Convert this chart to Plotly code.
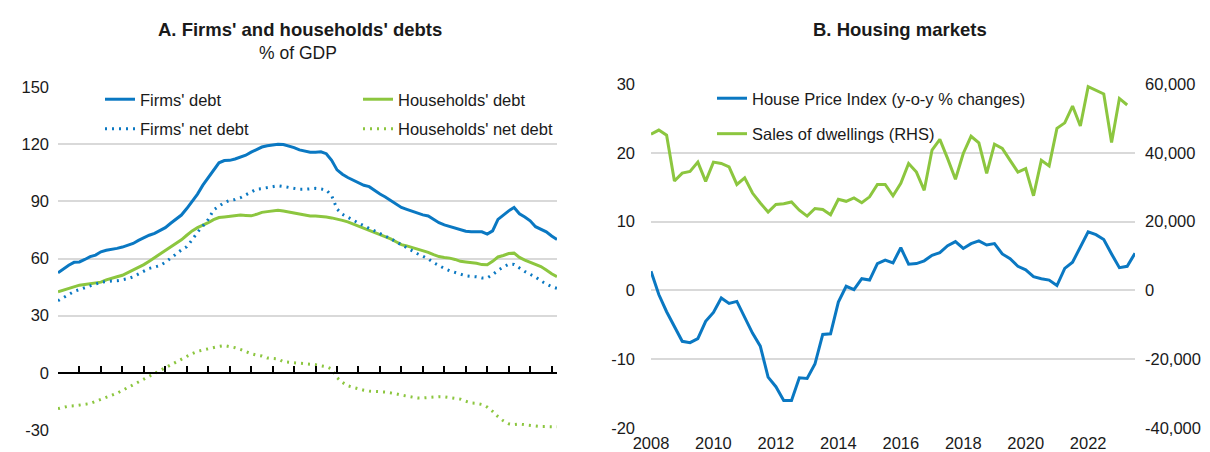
import plotly.graph_objects as go

# ---------------- Panel A data (quarterly, 2000Q1 .. 2023Q2) ----------------
quarter_idx = list(range(94))
firms_debt = [52.5, 54.5, 56.5, 58.0, 58.2, 59.5, 61.0, 61.8, 63.5, 64.3,
              64.7, 65.3, 66.0, 67.0, 67.9, 69.5, 71.0, 72.2, 73.2, 74.5,
              76.2, 78.5, 80.8, 82.8, 86.2, 90.0, 93.8, 98.5, 102.3, 106.5,
              110.2, 111.4, 111.5, 112.2, 113.2, 114.2, 115.8, 117.3, 118.5, 119.2,
              119.6, 120.0, 119.8, 119.1, 118.2, 117.0, 116.3, 115.8, 115.8, 116.0,
              115.0, 111.5, 106.5, 104.2, 102.5, 101.2, 100.0, 98.4, 97.7, 95.5,
              93.8, 92.3, 90.5, 88.7, 86.8, 85.8, 84.8, 83.8, 82.9, 82.3,
              80.5, 78.8, 77.6, 76.8, 76.0, 75.0, 74.3, 74.0, 74.0, 74.0,
              72.8, 74.5, 80.5, 82.8, 85.0, 86.8, 83.5, 81.8, 79.8, 76.7,
              75.5, 74.0, 71.8, 70.0]
households_debt = [42.5, 43.4, 44.2, 45.2, 46.0, 46.4, 46.8, 47.2, 47.6, 48.8,
                   49.8, 50.4, 51.2, 52.6, 53.9, 55.3, 56.8, 58.6, 60.5, 62.4,
                   64.2, 66.1, 68.0, 69.8, 72.2, 74.5, 76.2, 77.4, 78.8, 80.4,
                   81.5, 81.8, 82.1, 82.6, 82.8, 82.6, 82.4, 83.2, 84.2, 84.6,
                   85.0, 85.3, 84.9, 84.2, 83.9, 83.4, 82.8, 82.3, 82.3, 82.2,
                   81.8, 81.3, 80.8, 80.0, 79.2, 78.1, 77.0, 75.9, 74.8, 73.7,
                   72.7, 71.6, 70.3, 68.8, 67.3, 66.6, 65.8, 64.8, 63.9, 63.2,
                   62.0, 61.0, 60.5, 60.2, 59.5, 58.5, 58.2, 58.0, 57.5, 56.8,
                   56.7, 58.5, 60.8, 61.6, 62.6, 62.8, 60.6, 59.2, 58.0, 57.0,
                   55.8, 54.0, 52.0, 50.5]
firms_net_debt = [37.8, 39.5, 41.0, 42.7, 43.7, 44.8, 45.8, 46.6, 47.5, 48.0,
                  48.2, 48.3, 48.7, 49.4, 50.4, 51.8, 53.4, 54.8, 55.5, 56.3,
                  58.0, 60.0, 62.3, 64.5, 66.2, 69.8, 73.8, 77.0, 80.5, 85.5,
                  87.6, 89.4, 90.5, 91.0, 91.9, 93.4, 95.2, 96.4, 96.7, 97.1,
                  97.6, 98.2, 97.8, 97.4, 96.9, 96.3, 96.3, 96.6, 96.8, 96.5,
                  96.0, 93.0, 86.0, 83.2, 81.5, 80.2, 78.6, 77.0, 75.8, 74.5,
                  73.2, 71.8, 70.4, 68.8, 67.2, 65.8, 63.8, 62.5, 61.2, 59.8,
                  57.8, 56.2, 54.8, 53.6, 52.6, 51.7, 50.9, 50.6, 50.4, 49.8,
                  49.8, 51.5, 53.8, 55.5, 57.0, 56.9, 55.0, 53.2, 51.7, 50.3,
                  48.2, 46.5, 45.2, 44.3]
households_net_debt = [-18.8, -18.2, -17.5, -17.3, -17.0, -16.6, -16.1, -15.0, -13.8, -12.6,
                       -11.8, -10.7, -9.3, -8.0, -6.3, -4.8, -3.3, -1.8, -0.2, 0.9,
                       2.4, 4.0, 5.8, 7.1, 8.6, 10.1, 11.3, 12.0, 12.8, 13.4,
                       13.9, 14.3, 13.9, 13.2, 12.3, 11.0, 10.0, 9.3, 8.8, 7.8,
                       7.5, 7.3, 5.8, 5.5, 5.3, 5.1, 4.9, 4.7, 4.3, 3.7,
                       3.2, 2.0, -2.5, -5.0, -6.8, -7.6, -8.5, -9.1, -9.6, -9.9,
                       -9.9, -10.1, -10.5, -11.0, -11.7, -12.3, -12.5, -13.2, -13.2, -12.9,
                       -12.6, -12.5, -12.6, -12.9, -13.2, -13.8, -14.9, -15.8, -16.0, -16.6,
                       -18.0, -20.2, -23.0, -25.2, -26.7, -27.2, -26.9, -27.2, -27.8, -28.1,
                       -28.2, -28.2, -28.3, -28.3]
a_ticks = list(range(0, 93, 4))
a_yticks = [-30, 0, 30, 60, 90, 120, 150]
a_yticklabels = ["-30", "0", "30", "60", "90", "120", "150"]

# ---------------- Panel B data (quarterly, from 2008Q1) ----------------
years_b = [2008 + 0.25 * j for j in range(63)]
hpi = [2.8, -0.6, -3.1, -5.2, -7.4, -7.6, -7.0, -4.5, -3.2, -1.1,
       -1.9, -1.6, -3.8, -6.2, -8.1, -12.6, -14.0, -16.0, -16.0, -12.7,
       -12.8, -10.7, -6.4, -6.3, -1.7, 0.6, 0.1, 1.7, 1.5, 3.9,
       4.4, 4.0, 6.2, 3.8, 3.9, 4.3, 5.1, 5.5, 6.5, 7.1,
       6.1, 6.8, 7.2, 6.6, 6.8, 5.3, 4.6, 3.5, 3.0, 2.0,
       1.7, 1.5, 0.7, 3.2, 4.1, 6.3, 8.5, 8.1, 7.4, 5.3,
       3.3, 3.5, 5.4]
sales = [45400, 46600, 45100, 31800, 34100, 34600, 37300, 31700, 37300, 36900,
         35900, 30800, 32700, 28300, 25400, 22800, 25000, 25200, 25700, 23300,
         21600, 23800, 23500, 22000, 26500, 25900, 26900, 25500, 27200, 30800,
         30800, 27500, 31100, 36900, 34400, 29100, 40800, 43900, 38300, 32300,
         39800, 44800, 42900, 34000, 42500, 41300, 37800, 34400, 35400, 27500,
         37800, 36200, 47100, 48700, 53600, 47800, 59200, 58200, 57100, 43000,
         55800, 53900]
b_xticks = [2008, 2010, 2012, 2014, 2016, 2018, 2020, 2022]
b_yticks_left = [-20, -10, 0, 10, 20, 30]
b_yticklabels_left = ["-20", "-10", "0", "10", "20", "30"]
b_yticks_right = [-40000, -20000, 0, 20000, 40000, 60000]
b_yticklabels_right = ["-40,000", "-20,000", "0", "20,000", "40,000", "60,000"]

BLUE = "#0a78c2"
GREEN = "#8cc63f"
GRID = "#d9d9d9"
TXT = "#1a1a1a"
FONT = "Liberation Sans Narrow, Arial Narrow, Liberation Sans, Arial, sans-serif"
FS = 16.5

W, H = 1210, 452
ML, MR, MT, MB = 58, 75, 84, 22
PW, PH = W - ML - MR, H - MT - MB


def px_x(p):
    return (p - ML) / PW


def px_y(p):
    return (H - MB - p) / PH


DOT = "2px,5px"

fig = go.Figure()
fig.add_trace(go.Scatter(x=quarter_idx, y=firms_debt, name="Firms' debt", mode="lines",
                         line=dict(color=BLUE, width=3), xaxis="x", yaxis="y",
                         legend="legend", legendgroup="g1"))
fig.add_trace(go.Scatter(x=quarter_idx, y=households_debt, name="Households' debt", mode="lines",
                         line=dict(color=GREEN, width=3), xaxis="x", yaxis="y",
                         legend="legend2", legendgroup="g2"))
fig.add_trace(go.Scatter(x=quarter_idx, y=firms_net_debt, name="Firms' net debt", mode="lines",
                         line=dict(color=BLUE, width=3, dash=DOT), xaxis="x", yaxis="y",
                         legend="legend", legendgroup="g3"))
fig.add_trace(go.Scatter(x=quarter_idx, y=households_net_debt, name="Households' net debt", mode="lines",
                         line=dict(color=GREEN, width=3, dash=DOT), xaxis="x", yaxis="y",
                         legend="legend2", legendgroup="g4"))
fig.add_trace(go.Scatter(x=years_b, y=hpi, name="House Price Index (y-o-y % changes)", mode="lines",
                         line=dict(color=BLUE, width=3), xaxis="x2", yaxis="y2",
                         legend="legend3", legendgroup="g5"))
fig.add_trace(go.Scatter(x=years_b[:len(sales)], y=sales, name="Sales of dwellings (RHS)", mode="lines",
                         line=dict(color=GREEN, width=3), xaxis="x2", yaxis="y3",
                         legend="legend3", legendgroup="g6"))

dom_a = [0, px_x(557)]
dom_b = [px_x(651), 1]
ydom_a = [0, px_y(87)]
ydom_b = [px_y(428), 1]
zero_a = ydom_a[0] + (ydom_a[1] - ydom_a[0]) * (30 / 180)
zero_b = ydom_b[0] + (ydom_b[1] - ydom_b[0]) * (20 / 50)

tf = dict(size=FS, color=TXT, family=FONT)

fig.update_layout(
    width=W, height=H,
    margin=dict(l=ML, r=MR, t=MT, b=MB, autoexpand=False),
    paper_bgcolor="white", plot_bgcolor="white",
    font=dict(family=FONT, size=FS, color=TXT),
    showlegend=True,
    xaxis=dict(domain=dom_a, range=[0, 93], anchor="free", position=zero_a, automargin=False,
               tickvals=a_ticks, ticks="inside", ticklen=6, tickwidth=1.5, tickcolor="black",
               showline=True, linecolor="black", linewidth=2, showticklabels=False,
               showgrid=False, zeroline=False),
    yaxis=dict(domain=ydom_a, range=[-30, 150], tickvals=a_yticks, ticktext=a_yticklabels,
               anchor="x", automargin=False,
               showgrid=True, gridcolor=GRID, gridwidth=1.5, zeroline=False, ticks="",
               tickfont=tf, ticklabelstandoff=8),
    xaxis2=dict(domain=dom_b, range=[2008, 2023.5], anchor="y2", tickvals=b_xticks, automargin=False,
                ticks="", showline=False, showgrid=False, zeroline=False, tickfont=tf,
                ticklabelstandoff=3),
    xaxis3=dict(domain=dom_b, range=[2008, 2023.5], overlaying="x2", anchor="free", position=zero_b,
                automargin=False,
                tickvals=b_xticks, ticks="inside", ticklen=6, tickwidth=1.5, tickcolor="black",
                showline=True, linecolor="black", linewidth=2, showticklabels=False,
                showgrid=False, zeroline=False),
    yaxis2=dict(domain=ydom_b, range=[-20, 30], tickvals=b_yticks_left, ticktext=b_yticklabels_left,
                anchor="x2", automargin=False,
                showgrid=True, gridcolor=GRID, gridwidth=1.5, zeroline=False, ticks="",
                tickfont=tf, ticklabelstandoff=15),
    yaxis3=dict(domain=ydom_b, range=[-40000, 60000], tickvals=b_yticks_right,
                ticktext=b_yticklabels_right, automargin=False,
                overlaying="y2", side="right", anchor="x2", showgrid=False, zeroline=False,
                ticks="", tickfont=tf, ticklabelstandoff=9),
    legend=dict(x=px_x(100), y=px_y(82), xanchor="left", yanchor="top",
                bgcolor="rgba(0,0,0,0)", tracegroupgap=5, font=tf),
    legend2=dict(x=px_x(358), y=px_y(82), xanchor="left", yanchor="top",
                 bgcolor="rgba(0,0,0,0)", tracegroupgap=5, font=tf),
    legend3=dict(x=px_x(712), y=px_y(81), xanchor="left", yanchor="top",
                 bgcolor="rgba(0,0,0,0)", tracegroupgap=11, font=tf),
    annotations=[
        dict(text="<b>A. Firms' and households' debts</b>", x=px_x(300), y=px_y(30),
             xref="paper", yref="paper", showarrow=False, xanchor="center", yanchor="middle",
             font=dict(size=18.5, color=TXT, family=FONT)),
        dict(text="% of GDP", x=px_x(298), y=px_y(53),
             xref="paper", yref="paper", showarrow=False, xanchor="center", yanchor="middle",
             font=dict(size=17.5, color=TXT, family=FONT)),
        dict(text="<b>B. Housing markets</b>", x=px_x(900), y=px_y(30),
             xref="paper", yref="paper", showarrow=False, xanchor="center", yanchor="middle",
             font=dict(size=18.5, color=TXT, family=FONT)),
    ],
)

fig.write_html("out.html", config={"displayModeBar": False},
               post_script="document.body.style.margin='0';document.body.style.padding='0';"
                           "document.documentElement.style.overflow='hidden';")
